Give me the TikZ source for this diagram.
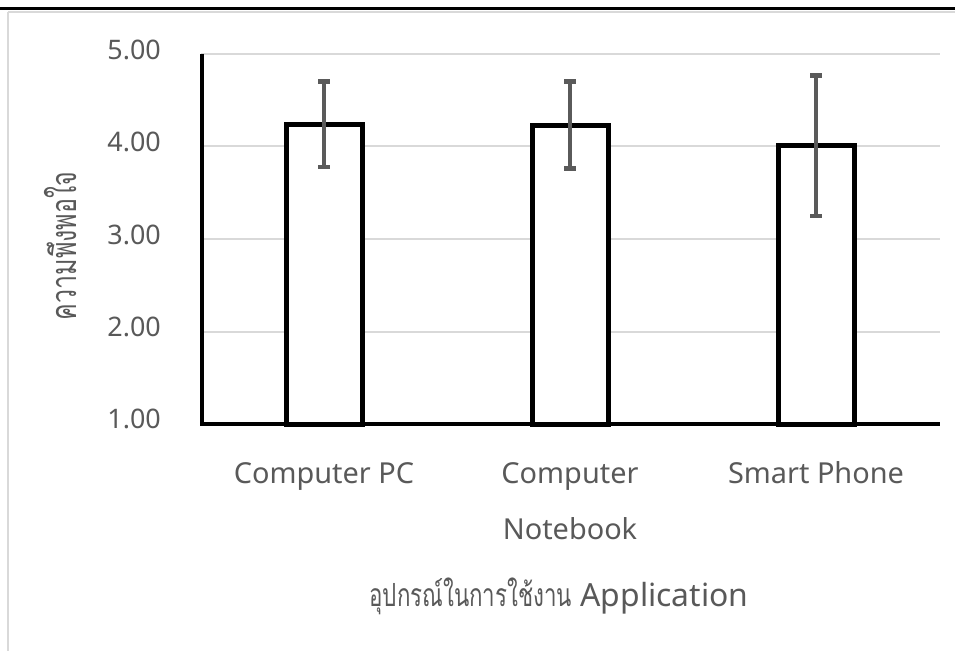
\documentclass[tikz,border=0pt]{standalone}
\usepackage{fontspec}
\setmainfont{Noto Sans}
\newfontfamily\thaifont[Script=Thai, FakeStretch=0.7]{Loma}
\definecolor{labelgray}{HTML}{595959}
\definecolor{gridgray}{HTML}{D9D9D9}
\definecolor{errgray}{HTML}{5A5A5A}
\tikzset{
  gridline/.style={draw=gridgray, line width=2bp},
  axisline/.style={draw=black, line width=4.5bp},
  barbox/.style={draw=black, fill=white, line width=5bp},
  errline/.style={draw=errgray, line width=4bp},
  errcap/.style={draw=errgray, line width=4.5bp},
  ticklabel/.style={text=labelgray, font=\fontsize{27}{32}\selectfont, anchor=east, inner sep=0pt},
  catlabel/.style={text=labelgray, font=\fontsize{29}{34}\selectfont, anchor=base, inner sep=0pt},
  axtitle/.style={text=labelgray, inner sep=0pt},
}
\begin{document}
\begin{tikzpicture}[x=1bp, y=-1bp]
\useasboundingbox (0,0) rectangle (955,651);
% chart frame
\draw[draw=black, line width=3bp] (0,9) -- (955,9);
\draw[draw=gridgray, line width=1.5bp] (8,12) -- (955,12);
\draw[draw=gridgray, line width=2bp] (8,12) -- (8,651);
% horizontal gridlines at 5, 4, 3, 2
\foreach \v in {2,3,4,5} {
  \draw[gridline] (201,{424-(\v-1)*92.5}) -- (940,{424-(\v-1)*92.5});
}
% tick labels
\node[ticklabel] (t5) at (161,50) {5.00};
\node[ticklabel] (t4) at (161,142) {4.00};
\node[ticklabel] (t3) at (161,235) {3.00};
\node[ticklabel] (t2) at (161,327) {2.00};
\node[ticklabel] (t1) at (161,419) {1.00};
% bars: centre x, mean, error
\foreach \cx/\m/\e in {324/4.24/0.46, 570/4.23/0.47, 816/4.01/0.76} {
  \draw[barbox] ({\cx-38},424) rectangle ({\cx+38},{424-(\m-1)*92.5});
  \draw[errline] (\cx,{424-(\m+\e-1)*92.5}) -- (\cx,{424-(\m-\e-1)*92.5});
  \draw[errcap] ({\cx-6},{424-(\m+\e-1)*92.5}) -- ({\cx+6},{424-(\m+\e-1)*92.5});
  \draw[errcap] ({\cx-6},{424-(\m-\e-1)*92.5}) -- ({\cx+6},{424-(\m-\e-1)*92.5});
}
% axes
\draw[axisline] (202,54) -- (202,424) -- (940,424);
% category labels
\node[catlabel] (c1) at (324,483) {Computer PC};
\node[catlabel] (c2a) at (570,483) {Computer};
\node[catlabel] (c2b) at (570,539) {Notebook};
\node[catlabel] (c3) at (816,483) {Smart Phone};
% axis titles
\node[axtitle, anchor=base, font=\fontsize{32}{36}\selectfont] (xt) at (559,606)
  {{\thaifont\fontsize{32}{36}\selectfont อุปกรณ์ในการใช้งาน} Application};
\node[axtitle, rotate=90, anchor=base, font=\thaifont\fontsize{36}{40}\selectfont] (yt) at (76,246) {ความพึงพอใจ};
\end{tikzpicture}
\end{document}
